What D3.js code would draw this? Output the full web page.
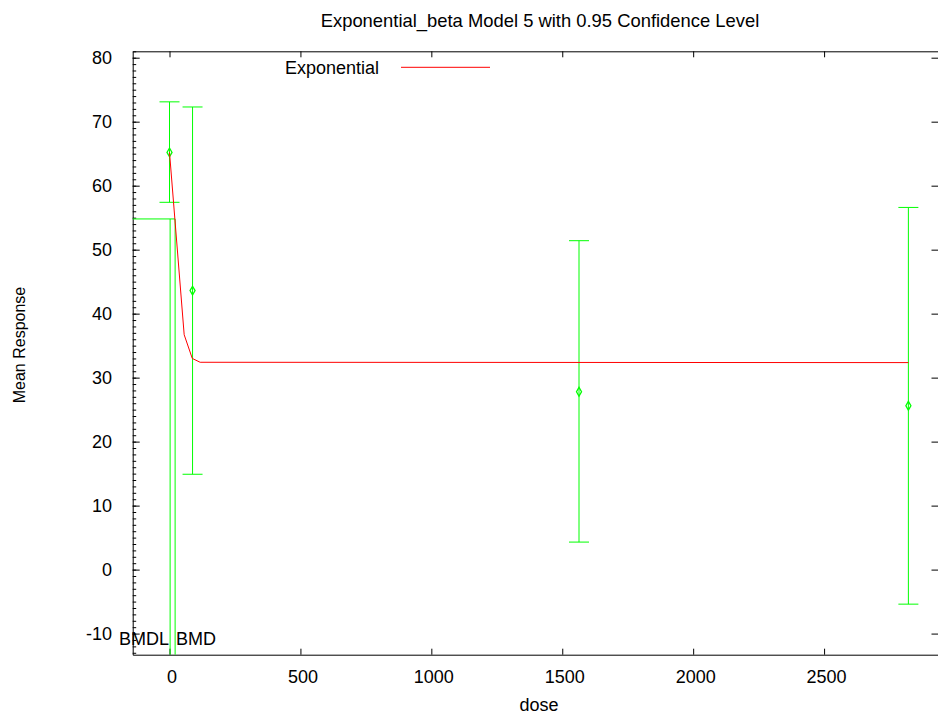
<!DOCTYPE html>
<html>
<head>
<meta charset="utf-8">
<script src="https://cdn.jsdelivr.net/npm/d3@7"></script>
<style>
  html, body { margin: 0; padding: 0; background: #fff; }
  svg { display: block; }
  text { font-family: "Liberation Sans", Arial, sans-serif; fill: #000; }
</style>
</head>
<body>
<svg id="chart" width="938" height="715"></svg>
<script>
// Observed dose groups: mean response with 95% confidence limits
const doses = [0, 88, 1564, 2822];
const means = [65.2, 43.6, 27.8, 25.6];
const lowerCL = [57.4, 14.9, 4.3, -5.4];
const upperCL = [73.1, 72.3, 51.4, 56.6];

// Fitted Exponential model 5 curve (sampled)
const curveDose = [0, 56, 87, 117, 2822];
const curveResp = [65.2, 36.7, 33.0, 32.4, 32.35];

// Benchmark dose markers
const bmdl = 2.3;
const bmd = 21.4;
const bmrResponse = 54.8;

const xTicks = [0, 500, 1000, 1500, 2000, 2500];
const yTicks = [-10, 0, 10, 20, 30, 40, 50, 60, 70, 80];

const titleText = "Exponential_beta Model 5 with 0.95 Confidence Level";
const xLabel = "dose";
const yLabel = "Mean Response";
const legendLabel = "Exponential";

const L = 132.7, R = 938.5, T = 51.3, B = 654.7;
const GREEN = "#00ff00", RED = "#ff0000";

const svg = d3.select("#chart");

const x = d3.scaleLinear().domain([-140.6, 2937]).range([L, R]);
const y = d3.scaleLinear().domain([-13.3, 81]).range([B, T]);

// plain hyphen for negatives, as gnuplot prints them
const plain = d => String(d);

// Axes (ticks drawn inward, gnuplot style)
const axisStyle = g => {
  g.selectAll("path.domain").attr("stroke", "#000").attr("stroke-width", 1);
  g.selectAll(".tick line").attr("stroke", "#000").attr("stroke-width", 1);
  g.selectAll(".tick text").style("font-size", "18px").attr("fill", "#000")
    .style("font-family", '"Liberation Sans", Arial, sans-serif');
};

// y minor ticks every 1 unit
const yMinor = d3.range(-13, 82, 1);
svg.append("g").attr("transform", `translate(${L},0)`)
  .call(d3.axisLeft(y).tickValues(yMinor).tickSizeInner(-3.5).tickSizeOuter(0).tickFormat(""))
  .call(axisStyle)
  .call(g => g.select("path.domain").remove());

svg.append("g").attr("transform", `translate(${L},0)`)
  .call(d3.axisLeft(y).tickValues(yTicks).tickSizeInner(-7).tickSizeOuter(0).tickPadding(20.7).tickFormat(plain))
  .call(axisStyle)
  .call(g => g.selectAll(".tick text").attr("dy", "0.34em"));

svg.append("g").attr("transform", `translate(0,${B})`)
  .call(d3.axisBottom(x).tickValues(xTicks).tickSizeInner(-6).tickSizeOuter(0).tickPadding(15.3).tickFormat(plain))
  .call(axisStyle)
  .call(g => g.selectAll(".tick text").attr("dx", "2"));

svg.append("g").attr("transform", `translate(0,${T})`)
  .call(d3.axisTop(x).tickValues(xTicks).tickSizeInner(-6).tickSizeOuter(0).tickFormat(""))
  .call(axisStyle);

svg.append("g").attr("transform", `translate(${R},0)`)
  .call(d3.axisRight(y).tickValues(yTicks).tickSizeInner(-7).tickSizeOuter(0).tickFormat(""))
  .call(axisStyle);

// BMR level and BMD / BMDL markers
svg.append("line")
  .attr("x1", x.range()[0]).attr("x2", x(bmd))
  .attr("y1", y(bmrResponse)).attr("y2", y(bmrResponse))
  .attr("stroke", GREEN).attr("stroke-width", 1);
[bmdl, bmd].forEach(d => {
  svg.append("line")
    .attr("x1", x(d)).attr("x2", x(d))
    .attr("y1", y(bmrResponse)).attr("y2", B)
    .attr("stroke", GREEN).attr("stroke-width", 1);
});
svg.append("text").attr("x", x(bmdl) - 1).attr("y", 644.7)
  .attr("text-anchor", "end").style("font-size", "18px").text("BMDL");
svg.append("text").attr("x", x(bmd) + 1).attr("y", 644.7)
  .attr("text-anchor", "start").style("font-size", "18px").text("BMD");

// Error bars with caps
const capHalf = 10;
const bars = svg.append("g").attr("stroke", GREEN).attr("stroke-width", 1).attr("fill", "none");
doses.forEach((d, i) => {
  const cx = x(d);
  bars.append("line").attr("x1", cx).attr("x2", cx).attr("y1", y(lowerCL[i])).attr("y2", y(upperCL[i]));
  bars.append("line").attr("x1", cx - capHalf).attr("x2", cx + capHalf).attr("y1", y(lowerCL[i])).attr("y2", y(lowerCL[i]));
  bars.append("line").attr("x1", cx - capHalf).attr("x2", cx + capHalf).attr("y1", y(upperCL[i])).attr("y2", y(upperCL[i]));
});

// Fitted curve
const curve = curveDose.map((d, i) => [d, curveResp[i]]);
svg.append("path").datum(curve)
  .attr("fill", "none").attr("stroke", RED).attr("stroke-width", 1)
  .attr("d", d3.line().x(p => x(p[0])).y(p => y(p[1])));

// Mean markers
bars.selectAll("path.pt").data(doses).enter().append("path")
  .attr("class", "pt")
  .attr("stroke-width", 1.3)
  .attr("d", d3.symbol().type(d3.symbolDiamond).size(22))
  .attr("transform", (d, i) => `translate(${x(d)},${y(means[i])})`);

// Legend
svg.append("text").attr("x", 379).attr("y", 74.3).attr("text-anchor", "end")
  .style("font-size", "18px").text(legendLabel);
svg.append("line").attr("x1", 401).attr("x2", 490).attr("y1", 67.3).attr("y2", 67.3)
  .attr("stroke", RED).attr("stroke-width", 1);

// Titles
svg.append("text").attr("x", 540).attr("y", 27).attr("text-anchor", "middle")
  .style("font-size", "18.4px").text(titleText);
svg.append("text").attr("x", 539).attr("y", 711).attr("text-anchor", "middle")
  .style("font-size", "18px").text(xLabel);
svg.append("text").attr("transform", `translate(25,${345}) rotate(-90)`)
  .attr("text-anchor", "middle").style("font-size", "16px").text(yLabel);
</script>
</body>
</html>
